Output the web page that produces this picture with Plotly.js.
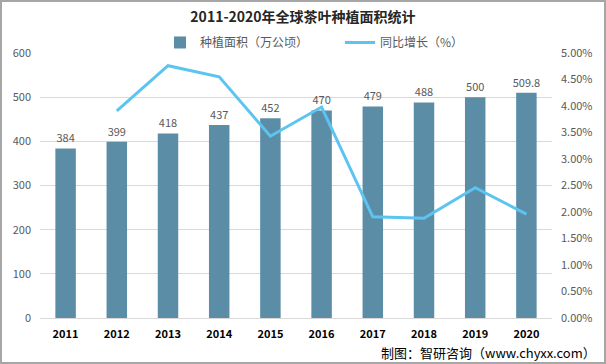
<!DOCTYPE html>
<html>
<head>
<meta charset="utf-8">
<script src="https://cdn.plot.ly/plotly-3.0.1.min.js"></script>
<style>
html,body{margin:0;padding:0;background:#fff;}
#wrap{position:relative;width:606px;height:364px;}
#chart{position:absolute;left:0;top:0;width:606px;height:364px;}
#frame{position:absolute;left:0;top:0;width:606px;height:364px;box-sizing:border-box;border:2px solid #a6a6a6;pointer-events:none;}
</style>
</head>
<body>
<div id="wrap"><div id="chart"></div><div id="frame"></div></div>
<script>
const years = ['2011','2012','2013','2014','2015','2016','2017','2018','2019','2020'];
const area = [384, 399, 418, 437, 452, 470, 479, 488, 500, 509.8];
const growth = [null, 3.91, 4.76, 4.55, 3.43, 3.98, 1.91, 1.88, 2.46, 1.96];
const areaLabels = ['384','399','418','437','452','470','479','488','500','509.8'];
const rightTicks = [0,0.5,1,1.5,2,2.5,3,3.5,4,4.5,5];
const rightTickText = ['0.00%','0.50%','1.00%','1.50%','2.00%','2.50%','3.00%','3.50%','4.00%','4.50%','5.00%'];

const font = '"Microsoft YaHei","Noto Sans CJK SC","Noto Sans",sans-serif';

const traces = [
  {
    type:'bar', x:years, y:area, name:'种植面积（万公顷）', legend:'legend',
    marker:{color:'#5b8ea6'},
    text:areaLabels, textposition:'outside', cliponaxis:false, constraintext:'none',
    textfont:{size:11, color:'#595959', family:font},
    hoverinfo:'x+y'
  },
  {
    type:'scatter', mode:'lines', x:years, y:growth, name:'同比增长（%）', legend:'legend2',
    yaxis:'y2', line:{color:'#5bc4f0', width:3}, connectgaps:false
  }
];

const legFont = {family:font, size:12, color:'#595959'};
const layout = {
  width:606, height:364,
  margin:{l:40, r:54, t:53, b:46, pad:0},
  paper_bgcolor:'#fff', plot_bgcolor:'#fff',
  font:{family:font, size:11, color:'#595959'},
  title:{text:'<b>2011-2020年全球茶叶种植面积统计</b>', x:0.5, xanchor:'center', y:0.952, yanchor:'middle',
         font:{family:font, size:14, color:'#262626'}},
  bargap:0.6,
  showlegend:true,
  legend:{orientation:'h', x:(160-40)/512, xanchor:'left', y:0.985, yanchor:'bottom',
          font:legFont, itemwidth:30, bgcolor:'rgba(0,0,0,0)'},
  legend2:{orientation:'h', x:(340-40)/512, xanchor:'left', y:0.985, yanchor:'bottom',
          font:legFont, itemwidth:30, bgcolor:'rgba(0,0,0,0)'},
  xaxis:{type:'category', showgrid:false, zeroline:false, showline:false, ticks:'',
         tickfont:{family:font, size:11, color:'#000', weight:'bold'}, ticklabelstandoff:8},
  yaxis:{range:[0,600], dtick:100, tick0:0, showgrid:true, gridcolor:'#d9d9d9', gridwidth:1,
         zeroline:true, zerolinecolor:'#d9d9d9', showline:false, ticks:'',
         tickfont:{family:font, size:11, color:'#595959'}, ticklabelstandoff:8},
  yaxis2:{overlaying:'y', side:'right', range:[0,5], tickmode:'array', tickvals:rightTicks, ticktext:rightTickText,
          showgrid:false, zeroline:false, showline:false, ticks:'',
          tickfont:{family:font, size:11, color:'#595959'}, ticklabelstandoff:8},
  annotations:[
    {text:'制图：智研咨询（www.chyxx.com）', xref:'paper', yref:'paper',
     x:(598-40)/512, xanchor:'right', y:-(352-318)/265, yanchor:'middle', showarrow:false,
     font:{family:font, size:13, color:'#000'}}
  ]
};

Plotly.newPlot('chart', traces, layout, {displayModeBar:false, staticPlot:true});
</script>
</body>
</html>
